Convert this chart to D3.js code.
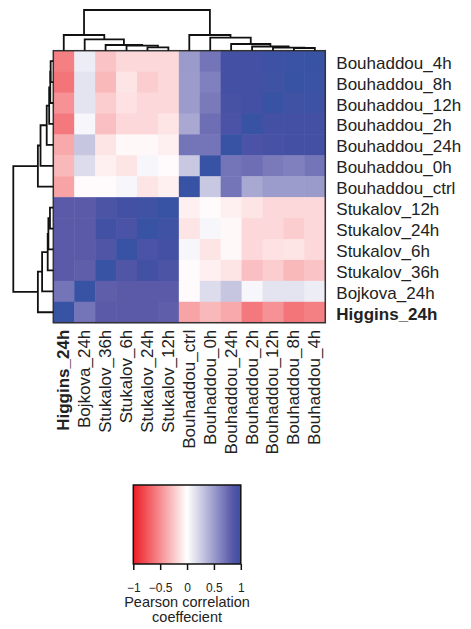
<!DOCTYPE html>
<html>
<head>
<meta charset="utf-8">
<script src="https://cdn.jsdelivr.net/npm/d3@7"></script>
<style>
  html, body { margin: 0; padding: 0; background: #fff; }
  svg { display: block; font-family: "Liberation Sans", Arial, sans-serif; }
</style>
</head>
<body>
<svg id="chart" width="471" height="629"></svg>
<script>
// ---- data ----
const columns = ["Higgins_24h","Bojkova_24h","Stukalov_36h","Stukalov_6h","Stukalov_24h","Stukalov_12h",
  "Bouhaddou_ctrl","Bouhaddou_0h","Bouhaddou_24h","Bouhaddou_2h","Bouhaddou_12h","Bouhaddou_8h","Bouhaddou_4h"];
const rows = columns.slice().reverse();
const boldLabels = ["Higgins_24h"];

// correlation values: one row per entry of `rows` (top to bottom), columns in `columns` order
const corrB4h   = [-0.56, 0.09,-0.26,-0.17,-0.17,-0.17, 0.51, 0.70, 0.94, 0.94, 0.98, 0.99, 1.00];
const corrB8h   = [-0.61, 0.14,-0.31,-0.12,-0.22,-0.17, 0.50, 0.64, 0.94, 0.94, 0.97, 1.00, 0.99];
const corrB12h  = [-0.48, 0.14,-0.22,-0.13,-0.17,-0.17, 0.50, 0.67, 0.92, 0.94, 1.00, 0.97, 0.98];
const corrB2h   = [-0.59, 0.04,-0.28,-0.17,-0.17,-0.12, 0.44, 0.73, 0.91, 1.00, 0.94, 0.94, 0.94];
const corrB24h  = [-0.38, 0.29,-0.12,-0.03,-0.03,-0.07, 0.70, 0.70, 1.00, 0.91, 0.92, 0.94, 0.94];
const corrB0h   = [-0.31, 0.18,-0.07,-0.12, 0.04,-0.02, 0.28, 1.00, 0.70, 0.73, 0.67, 0.64, 0.70];
const corrBctrl = [-0.40,-0.02,-0.02, 0.04,-0.12,-0.07, 1.00, 0.28, 0.70, 0.44, 0.50, 0.50, 0.51];
const corrS12h  = [ 0.83, 0.83, 0.90, 0.94, 0.97, 1.00,-0.07,-0.02,-0.07,-0.12,-0.17,-0.17,-0.17];
const corrS24h  = [ 0.83, 0.83, 0.95, 0.91, 1.00, 0.97,-0.12, 0.04,-0.03,-0.17,-0.17,-0.22,-0.17];
const corrS6h   = [ 0.83, 0.83, 0.88, 1.00, 0.91, 0.94, 0.04,-0.12,-0.03,-0.17,-0.13,-0.12,-0.17];
const corrS36h  = [ 0.83, 0.81, 1.00, 0.88, 0.95, 0.90,-0.02,-0.07,-0.12,-0.28,-0.22,-0.31,-0.26];
const corrBoj   = [ 0.70, 1.00, 0.81, 0.83, 0.83, 0.83,-0.02, 0.18, 0.29, 0.04, 0.14, 0.14, 0.09];
const corrHig   = [ 1.00, 0.70, 0.83, 0.83, 0.83, 0.81,-0.40,-0.31,-0.38,-0.59,-0.48,-0.61,-0.56];
const corrRows = [corrB4h, corrB8h, corrB12h, corrB2h, corrB24h, corrB0h, corrBctrl,
                  corrS12h, corrS24h, corrS6h, corrS36h, corrBoj, corrHig];

// hierarchical clustering merges: [id, childA, childB, height]
const merges = [
  ["L5", "Stukalov_24h", "Stukalov_12h", 3.4],
  ["L4", "Stukalov_6h", "L5", 5.0],
  ["L3", "Stukalov_36h", "L4", 5.7],
  ["L2", "Bojkova_24h", "L3", 11.4],
  ["L1", "Higgins_24h", "L2", 15.7],
  ["R6", "Bouhaddou_8h", "Bouhaddou_4h", 2.7],
  ["R5", "Bouhaddou_12h", "R6", 3.1],
  ["R4", "Bouhaddou_2h", "R5", 4.2],
  ["R3", "Bouhaddou_24h", "R4", 6.7],
  ["R2", "Bouhaddou_0h", "R3", 13.0],
  ["R1", "Bouhaddou_ctrl", "R2", 15.7],
  ["root", "L1", "R1", 40.7]
];

const legendTicks = [-1, -0.5, 0, 0.5, 1];
const legendTitle = ["Pearson correlation", "coeffecient"];

// ---- layout ----
const svg = d3.select("#chart");
const hmLeft = 53.3, hmTop = 50.7, hmSize = 272;

const x = d3.scaleBand().domain(columns).range([hmLeft, hmLeft + hmSize]);
const y = d3.scaleBand().domain(rows).range([hmTop, hmTop + hmSize]);

const color = d3.scaleLinear()
  .domain([-1, 0, 0.28, 0.5, 0.7, 0.83, 0.94, 1])
  .range(["#ED1C24", "#FFFFFF", "#C8C8E2", "#9C9CCC", "#7474B8", "#5A5AA8", "#4450A4", "#3953A4"])
  .clamp(true);

// ---- heatmap cells ----
const cells = [];
rows.forEach((r, i) => columns.forEach((c, j) => cells.push({r, c, v: corrRows[i][j]})));
svg.append("g").selectAll("rect").data(cells).join("rect")
  .attr("x", d => x(d.c)).attr("y", d => y(d.r))
  .attr("width", x.bandwidth() + 0.5).attr("height", y.bandwidth() + 0.5)
  .attr("fill", d => color(d.v));
svg.append("rect")
  .attr("x", hmLeft).attr("y", hmTop).attr("width", hmSize).attr("height", hmSize)
  .attr("fill", "none").attr("stroke", "#333").attr("stroke-width", 1.5);

// ---- dendrograms ----
const rootH = d3.max(merges, m => m[3]);
const hTop = d3.scaleLinear().domain([0, rootH]).range([hmTop, hmTop - 40.7]);
const hLeft = d3.scaleLinear().domain([0, rootH]).range([hmLeft, hmLeft - 40]);

function drawDendro(posOf, hScale, horizontal) {
  const nodes = {};
  merges.forEach(([id, a, b, h]) => {
    const na = nodes[a] || {p: posOf(a), h: 0};
    const nb = nodes[b] || {p: posOf(b), h: 0};
    nodes[id] = {p: (na.p + nb.p) / 2, h};
    const hy = hScale(h), ya = hScale(na.h), yb = hScale(nb.h);
    const path = horizontal
      ? `M${na.p},${ya}V${hy}H${nb.p}V${yb}`
      : `M${ya},${na.p}H${hy}V${nb.p}H${yb}`;
    svg.append("path").attr("d", path).attr("fill", "none")
      .attr("stroke", "#111").attr("stroke-width", 1.8);
  });
}
drawDendro(n => x(n) + x.bandwidth() / 2, hTop, true);
drawDendro(n => y(n) + y.bandwidth() / 2, hLeft, false);

// ---- labels ----
svg.append("g").selectAll("text").data(rows).join("text")
  .attr("x", hmLeft + hmSize + 11)
  .attr("y", d => y(d) + y.bandwidth() / 2 + 2)
  .attr("dominant-baseline", "central")
  .attr("font-size", 17)
  .attr("font-weight", d => boldLabels.includes(d) ? "bold" : "normal")
  .attr("fill", "#222")
  .text(d => d);

svg.append("g").selectAll("text").data(columns).join("text")
  .attr("transform", d => `translate(${x(d) + x.bandwidth() / 2},${hmTop + hmSize + 7}) rotate(-90)`)
  .attr("text-anchor", "end")
  .attr("dominant-baseline", "central")
  .attr("font-size", 17)
  .attr("font-weight", d => boldLabels.includes(d) ? "bold" : "normal")
  .attr("fill", "#222")
  .text(d => d);

// ---- legend ----
const lgX = 133.3, lgY = 485, lgW = 107.5, lgH = 79;
const defs = svg.append("defs");
const grad = defs.append("linearGradient").attr("id", "lg").attr("x1", "0%").attr("x2", "100%");
d3.range(-1, 1.0001, 0.05).forEach(v => {
  grad.append("stop").attr("offset", ((v + 1) / 2 * 100) + "%").attr("stop-color", color(v));
});
svg.append("rect").attr("x", lgX).attr("y", lgY).attr("width", lgW).attr("height", lgH)
  .attr("fill", "url(#lg)").attr("stroke", "#111").attr("stroke-width", 1.5);

const lgScale = d3.scaleLinear().domain([-1, 1]).range([lgX, lgX + lgW]);
const lgAxis = d3.axisBottom(lgScale).tickValues(legendTicks).tickSize(6).tickPadding(13)
  .tickFormat(d => d3.format("")(d).replace("-", "\u2212"));
const ag = svg.append("g").attr("transform", `translate(0,${lgY + lgH})`).call(lgAxis);
ag.select(".domain").remove();
ag.selectAll(".tick line").attr("stroke", "#111").attr("stroke-width", 1.5);
ag.selectAll(".tick text").attr("font-size", 12).attr("fill", "#222")
  .attr("font-family", "'Liberation Sans', Arial, sans-serif");

svg.append("g").selectAll("text").data(legendTitle).join("text")
  .attr("x", lgX + lgW / 2).attr("y", (d, i) => 607 + i * 15)
  .attr("text-anchor", "middle").attr("font-size", 14.5).attr("fill", "#222")
  .text(d => d);
</script>
</body>
</html>
